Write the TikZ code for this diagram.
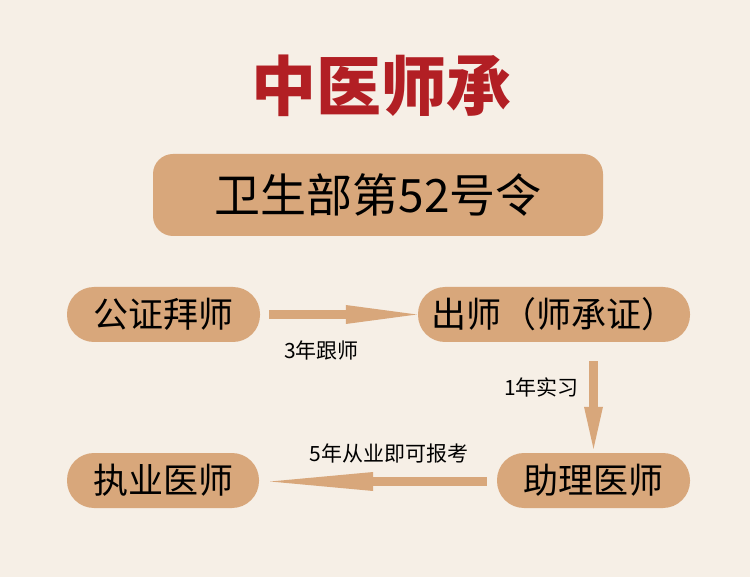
\documentclass[tikz,border=0pt]{standalone}
\usepackage{fontspec}
\newfontfamily\cjk{Noto Sans CJK SC}
\usetikzlibrary{arrows.meta}
\definecolor{bgc}{HTML}{F6EFE6}
\definecolor{boxc}{HTML}{D8A77B}
\definecolor{titlec}{HTML}{B21F24}
\begin{document}
\begin{tikzpicture}[x=1pt,y=-1pt,
  pill/.style={fill=boxc, rounded corners=27pt, minimum height=55pt, inner sep=0pt, font=\cjk\fontsize{35}{38}\selectfont},
  lab/.style={inner sep=0pt, font=\cjk\fontsize{21}{23}\selectfont},
  arr/.style={draw=boxc, line width=9pt}]
\useasboundingbox[fill=bgc] (0,0) rectangle (750,577);
\node[font=\cjk\bfseries\fontsize{65}{70}\selectfont, text=titlec, inner sep=0pt] (title) at (381,86) {中医师承};
\node[fill=boxc, rounded corners=20pt, minimum width=450pt, minimum height=82pt, inner sep=0pt, font=\cjk\fontsize{46}{50}\selectfont] (ling) at (378,195) {卫生部第52号令};
\node[pill, minimum width=193pt] (a) at (163.5,314.5) {公证拜师};
\node[pill, minimum width=272pt] (b) at (554,314.5) {出师（师承证）};
\node[pill, minimum width=193pt] (c) at (593.5,480.5) {助理医师};
\node[pill, minimum width=192pt] (d) at (163,480.5) {执业医师};
\draw[arr, -{Triangle[length=71pt,width=19pt,line width=0pt]}] ([xshift=9pt]a.east) -- ([xshift=-1pt]b.west);
\draw[arr, -{Triangle[length=42pt,width=19pt,line width=0pt]}] ([yshift=-19pt]b.south -| c.north) -- ([yshift=4pt]c.north);
\draw[arr, -{Triangle[length=103pt,width=19pt,line width=0pt]}] ([xshift=-10pt,yshift=-1pt]c.west) -- ([xshift=11pt,yshift=-1pt]d.east);
\node[lab] (l1) at (321.5,350) {3年跟师};
\node[lab] (l2) at (541.5,387) {1年实习};
\node[lab] (l3) at (389,453.5) {5年从业即可报考};
\end{tikzpicture}
\end{document}
